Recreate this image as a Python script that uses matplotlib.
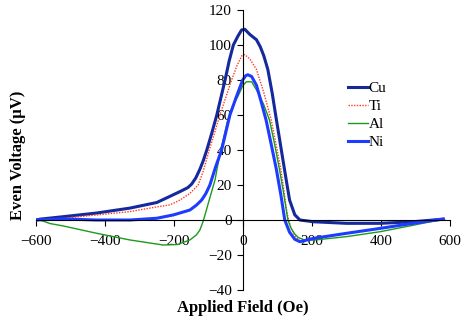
import matplotlib
matplotlib.use('Agg')
from matplotlib import pyplot as plt
from matplotlib import rcParams

rcParams['font.family'] = 'Liberation Serif'
rcParams['font.size'] = 11

# Cu
cu_x = [-600, -588, -521, -424, -328, -250, -212, -180, -160, -149, -137, -125, -115,
        -105, -90, -76, -64, -52, -40, -28, -15, -4, 5, 20, 39, 50, 60, 72, 85, 97,
        107, 116, 126, 135, 150, 165, 204, 300, 397, 493, 580]
cu_y = [0, 0.5, 1.9, 4, 6.8, 10, 13.5, 16.5, 18.5, 20.5, 24, 29, 34,
        40, 50, 60, 70, 80, 91, 100, 105, 108.6, 109, 106, 103, 99, 94, 86, 72, 57,
        45, 34, 22, 11.4, 3, 0, -1, -1.9, -1.9, -1, 0.5]

# Ti
ti_x = [-600, -521, -424, -328, -250, -212, -183, -155, -130, -115, -98, -82, -67,
        -50, -33, -18, -3, 5, 20, 39, 60, 82, 96, 110, 120, 125, 130, 138, 150,
        165, 204, 300, 397, 493, 590]
ti_y = [0, 1, 2.9, 4.8, 7.5, 8.6, 11.4, 15, 20, 28, 40, 50, 60,
        70, 80, 88, 94, 94.5, 92, 86, 73, 57, 43, 28.6, 15, 7, 2, -4, -9,
        -12, -10.5, -7.6, -4.8, -1.9, 0.5]

# Al
al_x = [-600, -588, -560, -521, -424, -328, -231, -190, -154, -135, -125, -116,
        -110, -100, -81, -67, -55, -43, -28, -14, 0, 10, 25, 40, 60, 77, 92, 106,
        118, 130, 140, 150, 160, 180, 204, 300, 397, 493, 580]
al_y = [0, 0, -2, -3.4, -7.6, -11.4, -14.3, -14, -11.4, -8.5, -5.7, -1,
        3, 10, 23, 38, 48, 58, 66, 71, 77, 79, 79, 74, 66, 57, 43, 28.6,
        15, 0, -5, -8, -10, -11.5, -11.5, -9.5, -6.7, -3, 0.5]

# Ni
ni_x = [-600, -521, -424, -328, -250, -202, -154, -135, -120, -108, -96, -80, -62,
        -50, -38, -20, -1, 8, 14, 25, 39, 52, 67, 82, 97, 110, 121, 135, 150, 165,
        204, 300, 397, 493, 580]
ni_y = [0, 0.6, 0, 0, 1, 2.9, 5.7, 8.5, 11.4, 15, 20, 30, 40,
        50, 60, 70, 80, 82.5, 83, 82, 77, 68, 57, 43, 28.6, 14, 0, -7, -11, -12.4,
        -10.5, -7.6, -4.8, -1.9, 0.5]

fig = plt.figure(figsize=(4.75, 3.26), dpi=100)
ax = fig.add_axes([0.0758, 0.1104, 0.8716, 0.8589])

ax.plot(cu_x, cu_y, color='#14299c', lw=2.2, label='Cu')
ax.plot(ti_x, ti_y, color='#ff3a1a', lw=1.0, ls=(0, (1, 1)), label='Ti')
ax.plot(al_x, al_y, color='#1c9a1c', lw=1.0, label='Al')
ax.plot(ni_x, ni_y, color='#1e3cff', lw=2.2, label='Ni')

ax.set_xlim(-600, 600)
ax.set_ylim(-40, 120)
ax.set_xticks(range(-600, 601, 200))
ax.set_yticks(range(-40, 121, 20))

ax.spines['top'].set_visible(False)
ax.spines['right'].set_visible(False)
ax.spines['left'].set_position(('data', 0))
ax.spines['bottom'].set_position(('data', 0))
ax.tick_params(axis='x', direction='out', length=4, pad=7)
ax.tick_params(axis='y', direction='out', length=4, pad=4)

fig.text(0.5116, 0.055, 'Applied Field (Oe)', ha='center', va='center',
         fontsize=12, fontweight='bold')
fig.text(0.037, 0.525, 'Even Voltage (\u03bcV)', ha='center', va='center',
         rotation=90, fontsize=12, fontweight='bold')

ax.legend(frameon=False, loc='upper left', bbox_to_anchor=(0.754, 0.745),
          handlelength=1.3, handletextpad=0.05, labelspacing=0.28,
          borderaxespad=0, borderpad=0)

fig.savefig('out.png', dpi=100)
